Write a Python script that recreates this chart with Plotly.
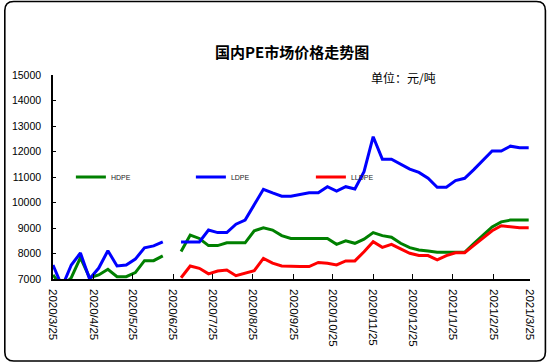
import plotly.graph_objects as go
import pandas as pd

# ---- data ----
start_date = "2020-03-25"
n_weeks = 53
dates = pd.date_range(start_date, periods=n_weeks, freq="7D")

hdpe = [7160, 6700, 7050, 7840, 7050, 7160, 7380, 7090, 7090, 7250, 7720, 7720, 7910,
        None,
        8080, 8720, 8590, 8310, 8310, 8420, 8420, 8420, 8890, 9010, 8920, 8700, 8590,
        8590, 8590, 8590, 8590, 8360, 8500, 8400, 8560, 8820, 8700, 8640, 8400, 8230,
        8140, 8100, 8050, 8050, 8050, 8050, 8390, 8720, 9040, 9240, 9310, 9310, 9310]

ldpe = [7550, 6700, 7550, 8020, 7000, 7430, 8110, 7510, 7550, 7780, 8220, 8300, 8460,
        None,
        8450, 8450, 8450, 8920, 8820, 8820, 9150, 9310, 9940, 10520, 10380, 10250, 10250,
        10330, 10380, 10380, 10620, 10450, 10620, 10530, 11210, 12580, 11700, 11700, 11500,
        11310, 11180, 10950, 10600, 10600, 10860, 10950, 11290, 11660, 12020, 12020, 12210,
        12150, 12150]

lldpe = [None] * 14 + [
        7050, 7510, 7420, 7200, 7310, 7350, 7130, 7230, 7330, 7810, 7620, 7510, 7490,
        7490, 7490, 7650, 7620, 7550, 7710, 7710, 8070, 8460, 8240, 8360, 8180, 8010,
        7920, 7920, 7750, 7920, 8030, 8030, 8320, 8610, 8890, 9090, 9050, 9010, 9010]

series_names = ["HDPE", "LDPE", "LLDPE"]
series_colors = ["#008000", "#0000FF", "#FF0000"]

tick_dates = ["2020-03-25", "2020-04-25", "2020-05-25", "2020-06-25", "2020-07-25",
              "2020-08-25", "2020-09-25", "2020-10-25", "2020-11-25", "2020-12-25",
              "2021-01-25", "2021-02-25", "2021-03-25"]
tick_labels = ["2020/3/25", "2020/4/25", "2020/5/25", "2020/6/25", "2020/7/25",
               "2020/8/25", "2020/9/25", "2020/10/25", "2020/11/25", "2020/12/25",
               "2021/1/25", "2021/2/25", "2021/3/25"]
y_ticks = [7000, 8000, 9000, 10000, 11000, 12000, 13000, 14000, 15000]
y_tick_labels = [str(v) for v in y_ticks]

title_text = "国内PE市场价格走势图"
unit_text = "单位：元/吨"

# ---- figure ----
W, H = 550, 364
L, R, T, B = 50, 20, 75, 85
PW, PH = W - L - R, H - T - B


def px_x(px):
    return (px - L) / PW


def px_y(py):
    return (H - B - py) / PH


fig = go.Figure()
for name, vals, col in zip(series_names, [hdpe, ldpe, lldpe], series_colors):
    fig.add_trace(go.Scatter(x=dates, y=vals, name=name, mode="lines",
                             line=dict(color=col, width=3),
                             connectgaps=False))

# rounded outer frame
x0, x1, y0, y1, r = px_x(1.5), px_x(545.5), px_y(1.5), px_y(361), 9
rx, ry = r / PW, r / PH
path = (f"M {x0+rx},{y0} L {x1-rx},{y0} Q {x1},{y0} {x1},{y0-ry} "
        f"L {x1},{y1+ry} Q {x1},{y1} {x1-rx},{y1} L {x0+rx},{y1} "
        f"Q {x0},{y1} {x0},{y1+ry} L {x0},{y0-ry} Q {x0},{y0} {x0+rx},{y0} Z")

fig.update_layout(
    width=W, height=H,
    margin=dict(l=L, r=R, t=T, b=B, pad=0),
    paper_bgcolor="white", plot_bgcolor="white",
    font=dict(family="Liberation Sans, Arial, sans-serif", color="black", size=11),
    showlegend=True,
    legend=dict(orientation="h", x=px_x(68), xanchor="left", y=0.5, yanchor="middle",
                entrywidth=75, entrywidthmode="pixels", bgcolor="rgba(0,0,0,0)",
                font=dict(size=7, color="#222222"), itemwidth=30,
                itemclick=False),
    shapes=[dict(type="path", xref="paper", yref="paper", path=path,
                 line=dict(color="black", width=1.6), layer="above")],
    annotations=[
        dict(text=f"<b>{title_text}</b>", xref="paper", yref="paper",
             x=px_x(290), y=px_y(52), xanchor="center", yanchor="middle",
             showarrow=False,
             font=dict(family="Noto Sans CJK SC", size=15, color="black")),
        dict(text=unit_text, xref="paper", yref="paper",
             x=px_x(368), y=px_y(77), xanchor="left", yanchor="middle",
             showarrow=False,
             font=dict(family="Noto Sans CJK SC", size=12, color="black")),
    ],
)

fig.update_xaxes(
    type="date", range=["2020-03-25", "2021-03-25"],
    tickmode="array", tickvals=tick_dates, ticktext=tick_labels,
    tickangle=90, ticks="inside", ticklen=5, tickcolor="black",
    showline=True, linecolor="black", linewidth=1.5, showgrid=False,
    zeroline=False, ticklabelstandoff=6,
    tickfont=dict(size=11.5, color="black"),
)
fig.update_yaxes(
    range=[7000, 15000], tickmode="array", tickvals=y_ticks, ticktext=y_tick_labels,
    ticks="inside", ticklen=3, tickcolor="black",
    showline=True, linecolor="black", linewidth=1.5, showgrid=False,
    zeroline=False, ticklabelstandoff=8,
    tickfont=dict(size=10.5, color="black"),
)

fig.write_html("out.html", config={"displayModeBar": False},
               post_script="document.body.style.margin='0';document.body.style.overflow='hidden';")
